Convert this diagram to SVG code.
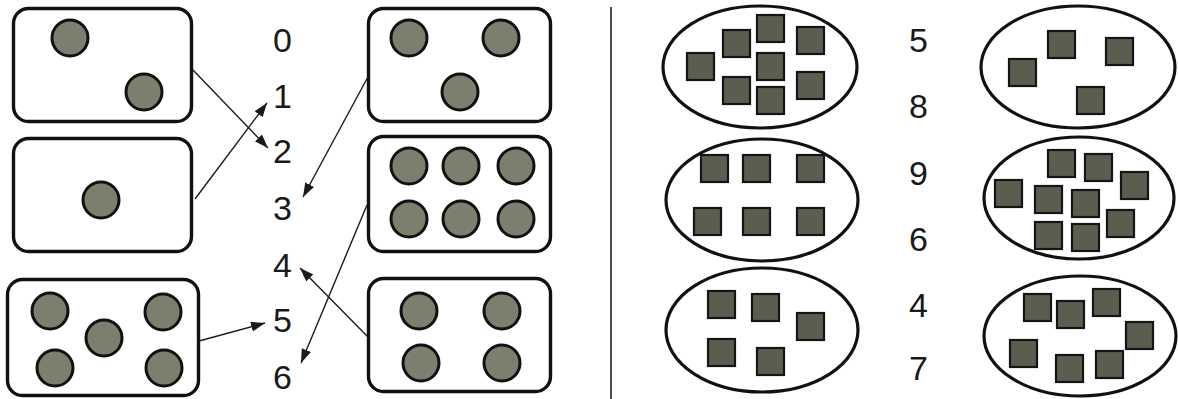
<svg xmlns="http://www.w3.org/2000/svg" width="1178" height="399" viewBox="0 0 1178 399">
<style>
.box{fill:#fff;stroke:#111;stroke-width:3.4}
.dot{fill:#7d7f6e;stroke:#111;stroke-width:3}
.oval{fill:#fff;stroke:#111;stroke-width:3.2}
.sq{fill:#5c5d4f;stroke:#151515;stroke-width:2.2}
.num{font-family:"Liberation Sans",Arial,sans-serif;font-size:34px;fill:#1a1a1a}
.arr{stroke:#1a1a1a;stroke-width:1.4;fill:none;marker-end:url(#ah)}
</style>
<defs>
<marker id="ah" markerUnits="userSpaceOnUse" markerWidth="15" markerHeight="11" refX="14" refY="5" orient="auto">
<path d="M0,0 L14,5 L0,10 Z" fill="#1a1a1a"/>
</marker>
</defs>
<rect width="1178" height="399" fill="#fff"/>
<g id="box-two"><rect class="box" x="13.5" y="8.5" width="178" height="113" rx="15"/><circle class="dot" cx="70" cy="38" r="18"/><circle class="dot" cx="144" cy="92" r="18"/></g>
<g id="box-one"><rect class="box" x="13.5" y="138.5" width="178" height="113" rx="15"/><circle class="dot" cx="101" cy="200" r="18"/></g>
<g id="box-five"><rect class="box" x="7.5" y="279.5" width="191" height="116" rx="15"/><circle class="dot" cx="50" cy="311" r="18"/><circle class="dot" cx="163" cy="312" r="18"/><circle class="dot" cx="104" cy="338" r="18"/><circle class="dot" cx="55" cy="368" r="18"/><circle class="dot" cx="164" cy="368" r="18"/></g>
<g id="box-three"><rect class="box" x="368.5" y="8.5" width="182" height="113" rx="15"/><circle class="dot" cx="409" cy="38" r="18"/><circle class="dot" cx="501" cy="38" r="18"/><circle class="dot" cx="460" cy="92" r="18"/></g>
<g id="box-six"><rect class="box" x="368.5" y="136.5" width="182" height="115" rx="15"/><circle class="dot" cx="409" cy="166" r="18"/><circle class="dot" cx="461" cy="166" r="18"/><circle class="dot" cx="516" cy="166" r="18"/><circle class="dot" cx="409" cy="219" r="18"/><circle class="dot" cx="461" cy="219" r="18"/><circle class="dot" cx="516" cy="219" r="18"/></g>
<g id="box-four"><rect class="box" x="368.5" y="278.5" width="182" height="113" rx="15"/><circle class="dot" cx="419" cy="311" r="18"/><circle class="dot" cx="502" cy="311" r="18"/><circle class="dot" cx="421" cy="363" r="18"/><circle class="dot" cx="502" cy="363" r="18"/></g>
<g id="numbers-left" class="num">
<text x="273" y="52">0</text><text x="273" y="108">1</text><text x="273" y="163">2</text><text x="273" y="220">3</text><text x="273" y="277">4</text><text x="273" y="332">5</text><text x="273" y="389">6</text>
</g>
<g id="connectors">
<line class="arr" x1="193" y1="70" x2="268" y2="148"/>
<line class="arr" x1="195" y1="199" x2="267" y2="103"/>
<line class="arr" x1="369" y1="75" x2="303" y2="197"/>
<line class="arr" x1="199" y1="341" x2="265" y2="323"/>
<line class="arr" x1="369" y1="338" x2="300" y2="268"/>
<line class="arr" x1="367" y1="205" x2="301" y2="363"/>
</g>
<line id="divider" x1="611" y1="7" x2="611" y2="399" stroke="#222" stroke-width="1.6"/>
<g id="oval-eight"><ellipse class="oval" cx="760" cy="67" rx="97" ry="61"/>
<rect class="sq" x="687" y="53" width="27" height="27"/><rect class="sq" x="723" y="30" width="27" height="27"/><rect class="sq" x="757" y="15" width="27" height="27"/><rect class="sq" x="797" y="27" width="27" height="27"/><rect class="sq" x="757" y="53" width="27" height="27"/><rect class="sq" x="723" y="77" width="27" height="27"/><rect class="sq" x="757" y="87" width="27" height="27"/><rect class="sq" x="797" y="72" width="27" height="27"/></g>
<g id="oval-six"><ellipse class="oval" cx="762" cy="200" rx="96" ry="61"/>
<rect class="sq" x="701" y="155" width="27" height="27"/><rect class="sq" x="743" y="155" width="27" height="27"/><rect class="sq" x="797" y="155" width="27" height="27"/><rect class="sq" x="694" y="208" width="27" height="27"/><rect class="sq" x="743" y="208" width="27" height="27"/><rect class="sq" x="797" y="208" width="27" height="27"/></g>
<g id="oval-five"><ellipse class="oval" cx="762" cy="330" rx="96" ry="62"/>
<rect class="sq" x="708" y="291" width="27" height="27"/><rect class="sq" x="752" y="294" width="27" height="27"/><rect class="sq" x="797" y="313" width="27" height="27"/><rect class="sq" x="708" y="339" width="27" height="27"/><rect class="sq" x="757" y="348" width="27" height="27"/></g>
<g id="numbers-right" class="num">
<text x="909" y="52">5</text><text x="909" y="118">8</text><text x="909" y="185">9</text><text x="909" y="251">6</text><text x="909" y="317">4</text><text x="909" y="380">7</text>
</g>
<g id="oval-four"><ellipse class="oval" cx="1078" cy="67" rx="97" ry="61"/>
<rect class="sq" x="1009" y="59" width="27" height="27"/><rect class="sq" x="1048" y="31" width="27" height="27"/><rect class="sq" x="1106" y="38" width="27" height="27"/><rect class="sq" x="1077" y="87" width="27" height="27"/></g>
<g id="oval-nine"><ellipse class="oval" cx="1079" cy="198" rx="95" ry="61"/>
<rect class="sq" x="995" y="180" width="27" height="27"/><rect class="sq" x="1048" y="150" width="27" height="27"/><rect class="sq" x="1085" y="154" width="27" height="27"/><rect class="sq" x="1121" y="172" width="27" height="27"/><rect class="sq" x="1035" y="186" width="27" height="27"/><rect class="sq" x="1072" y="190" width="27" height="27"/><rect class="sq" x="1107" y="210" width="27" height="27"/><rect class="sq" x="1035" y="222" width="27" height="27"/><rect class="sq" x="1072" y="224" width="27" height="27"/></g>
<g id="oval-seven"><ellipse class="oval" cx="1080" cy="336" rx="96" ry="60"/>
<rect class="sq" x="1024" y="294" width="27" height="27"/><rect class="sq" x="1057" y="301" width="27" height="27"/><rect class="sq" x="1093" y="289" width="27" height="27"/><rect class="sq" x="1126" y="322" width="27" height="27"/><rect class="sq" x="1010" y="340" width="27" height="27"/><rect class="sq" x="1056" y="355" width="27" height="27"/><rect class="sq" x="1096" y="351" width="27" height="27"/></g>
</svg>
